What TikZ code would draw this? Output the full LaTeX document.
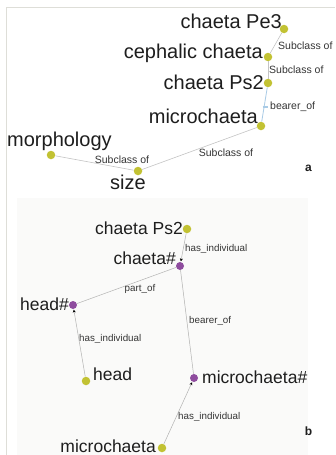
\documentclass[tikz,border=0pt]{standalone}
\usepackage{fontspec}
\setmainfont{Liberation Sans}
\usetikzlibrary{arrows.meta}
\definecolor{olive}{HTML}{C2C233}
\definecolor{violet}{HTML}{8E4C9E}
\definecolor{edgegray}{HTML}{C4C4C4}
\definecolor{edgeblue}{HTML}{A9CBE6}
\definecolor{txt}{HTML}{1E1E1E}
\definecolor{framegray}{HTML}{DEDED8}
\definecolor{panelbg}{HTML}{FAFAF9}
\tikzset{
  ydot/.style={circle,fill=olive,inner sep=0pt,minimum size=8.5pt},
  pdot/.style={circle,fill=violet,inner sep=0pt,minimum size=8pt},
  biglab/.style={font=\fontsize{20}{20}\selectfont,text=txt,inner sep=0pt},
  midlab/.style={font=\fontsize{17.5}{17.5}\selectfont,text=txt,inner sep=0pt},
  elab/.style={font=\fontsize{10.5}{10.5}\selectfont,text=txt!90,inner sep=0pt},
  elabb/.style={font=\fontsize{9.8}{9.8}\selectfont,text=txt!90,inner sep=0pt},
  edge/.style={draw=edgegray,line width=0.6pt},
  bedge/.style={draw=edgeblue,line width=0.8pt},
  bgedge/.style={draw=black!30,line width=0.5pt},
  redge/.style={draw=black!30,line width=0.5pt,-{Stealth[length=3pt,width=3pt,black]}},
  panellab/.style={font=\fontsize{12}{12}\selectfont\bfseries,text=txt,inner sep=0pt}
}
\begin{document}
\begin{tikzpicture}[x=1pt,y=-1pt]
\useasboundingbox (0,0) rectangle (335,455);
\fill[white] (0,0) rectangle (335,455);
% frame
\draw[framegray,line width=1pt] (6.5,455) -- (6.5,7.5) -- (335,7.5);
% panel b background
\fill[panelbg] (17,198) rectangle (308,455);

% ---------- panel a ----------
\node[ydot] (pe3) at (284,29) {};
\node[ydot] (ceph) at (268,57) {};
\node[ydot] (ps2a) at (268,83) {};
\node[ydot] (microa) at (261,126) {};
\node[ydot] (morph) at (51,155) {};
\node[ydot] (size) at (138,171) {};

\node[biglab,anchor=east] (lpe3) at (282,21) {chaeta Pe3};
\node[biglab,anchor=east] (lceph) at (263,53) {cephalic chaeta};
\node[biglab,anchor=east] (lps2a) at (264,82) {chaeta Ps2};
\node[biglab,anchor=east] (lmicroa) at (258,116) {microchaeta};
\node[biglab,anchor=west] (lmorph) at (7,141) {morphology};
\node[biglab] (lsize) at (128,182) {size};

\path[edge] (pe3) -- (ceph);
\path[edge] (ceph) -- (ps2a);
\path[bedge] (ps2a) -- (microa);
\path[edge] (microa) -- (size);
\path[edge] (morph) -- (size);
\draw[edgeblue,line width=1.3pt] (262.5,107) -- (267.5,107);

\node[elab,anchor=west] (e1) at (278,46) {Subclass of};
\node[elab,anchor=west] (e2) at (269,70) {Subclass of};
\node[elab,anchor=west] (e3) at (270,107) {bearer\_of};
\node[elab] (e4) at (226,153) {Subclass of};
\node[elab] (e5) at (122,160) {Subclass of};
\node[panellab] (pa) at (308.5,168.5) {a};

% ---------- panel b ----------
\node[ydot] (ps2b) at (187,229) {};
\node[pdot] (chi) at (180,266) {};
\node[pdot] (headi) at (73,305) {};
\node[ydot] (head) at (86,381) {};
\node[pdot] (microi) at (194,378) {};
\node[ydot] (microb) at (162,448) {};

\node[midlab,anchor=east] (lps2b) at (183,228) {chaeta Ps2};
\node[midlab,anchor=east] (lchi) at (176,258) {chaeta\#};
\node[midlab,anchor=east] (lheadi) at (69,304) {head\#};
\node[midlab,anchor=west] (lhead) at (93,374) {head};
\node[midlab,anchor=west] (lmicroi) at (202,377) {microchaeta\#};
\node[midlab,anchor=east] (lmicrob) at (156,446) {microchaeta};

\path[redge,shorten >=0.5pt] (ps2b) -- (chi);
\path[bgedge] (chi) -- (headi);
\path[bgedge] (chi) -- (microi);
\path[redge,shorten >=0.5pt] (head) -- (headi);
\path[redge,shorten >=0.5pt] (microb) -- (microi);

\node[elabb,anchor=west] (f1) at (185,249) {has\_individual};
\node[elabb] (f2) at (140,289) {part\_of};
\node[elabb,anchor=west] (f3) at (189,321) {bearer\_of};
\node[elabb,anchor=west] (f4) at (79,339) {has\_individual};
\node[elabb,anchor=west] (f5) at (178,417) {has\_individual};
\node[panellab] (pb) at (308.5,431) {b};
\end{tikzpicture}
\end{document}
